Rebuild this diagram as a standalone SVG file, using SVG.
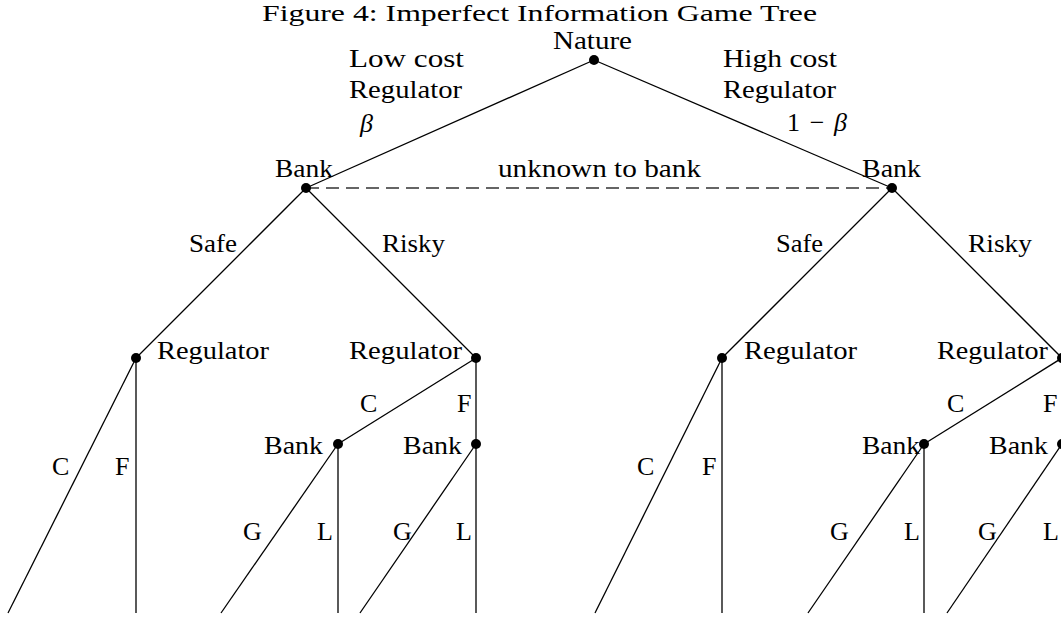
<svg xmlns="http://www.w3.org/2000/svg" width="1061" height="621" viewBox="0 0 1061 621">
<style>
text { font-family: "Liberation Serif", "Times New Roman", serif; font-size: 26px; fill: #000; }
.title { font-size: 23px; }
.it { font-style: italic; }
.edge { stroke: #000; stroke-width: 1.3; fill: none; }
.info { stroke: #333; stroke-width: 1.3; stroke-dasharray: 13 7; fill: none; }
.dot { fill: #000; }
</style>
<rect width="1061" height="621" fill="#fff"/>
<text class="title" x="262" y="20.6" textLength="555" lengthAdjust="spacingAndGlyphs">Figure 4: Imperfect Information Game Tree</text>

<g id="connectors">
  <line class="edge" x1="594" y1="60" x2="306" y2="188"/>
  <line class="edge" x1="594" y1="60" x2="892" y2="188"/>
  <line class="info" x1="306" y1="188" x2="892" y2="188"/>
  <!-- left bank -->
  <line class="edge" x1="306" y1="188" x2="136" y2="358"/>
  <line class="edge" x1="306" y1="188" x2="476" y2="358"/>
  <line class="edge" x1="136" y1="358" x2="8" y2="613"/>
  <line class="edge" x1="136" y1="358" x2="136" y2="613"/>
  <line class="edge" x1="476" y1="358" x2="338" y2="444"/>
  <line class="edge" x1="476" y1="358" x2="476" y2="613"/>
  <line class="edge" x1="338" y1="444" x2="221" y2="613"/>
  <line class="edge" x1="338" y1="444" x2="338" y2="613"/>
  <line class="edge" x1="476" y1="444" x2="360" y2="613"/>
  <!-- right bank -->
  <line class="edge" x1="892" y1="188" x2="722" y2="358"/>
  <line class="edge" x1="892" y1="188" x2="1062" y2="358"/>
  <line class="edge" x1="722" y1="358" x2="595" y2="613"/>
  <line class="edge" x1="722" y1="358" x2="722" y2="613"/>
  <line class="edge" x1="1062" y1="358" x2="924" y2="444"/>
  <line class="edge" x1="1062" y1="358" x2="1062" y2="613"/>
  <line class="edge" x1="924" y1="444" x2="808" y2="613"/>
  <line class="edge" x1="924" y1="444" x2="924" y2="613"/>
  <line class="edge" x1="1062" y1="444" x2="947" y2="613"/>
</g>

<g id="edge-labels">
  <text x="349" y="67" textLength="115" lengthAdjust="spacingAndGlyphs">Low cost</text>
  <text x="349" y="98" textLength="113" lengthAdjust="spacingAndGlyphs">Regulator</text>
  <text class="it" x="360" y="132">β</text>
  <text x="723" y="67" textLength="114" lengthAdjust="spacingAndGlyphs">High cost</text>
  <text x="723" y="98" textLength="113" lengthAdjust="spacingAndGlyphs">Regulator</text>
  <text x="787" y="131" textLength="60" lengthAdjust="spacing">1 − <tspan class="it">β</tspan></text>
  <text x="498" y="177" textLength="203" lengthAdjust="spacingAndGlyphs">unknown to bank</text>
  <text x="189" y="252" textLength="48" lengthAdjust="spacingAndGlyphs">Safe</text>
  <text x="382" y="252" textLength="63" lengthAdjust="spacingAndGlyphs">Risky</text>
  <text x="776" y="252" textLength="47" lengthAdjust="spacingAndGlyphs">Safe</text>
  <text x="968" y="252" textLength="64" lengthAdjust="spacingAndGlyphs">Risky</text>
  <text x="52" y="475">C</text>
  <text x="115" y="475">F</text>
  <text x="360" y="412">C</text>
  <text x="457" y="412">F</text>
  <text x="243" y="540">G</text>
  <text x="317" y="540">L</text>
  <text x="393" y="540">G</text>
  <text x="456" y="540">L</text>
  <text x="637" y="475">C</text>
  <text x="702" y="475">F</text>
  <text x="947" y="412">C</text>
  <text x="1043" y="412">F</text>
  <text x="830" y="540">G</text>
  <text x="904" y="540">L</text>
  <text x="978" y="540">G</text>
  <text x="1043" y="540">L</text>
</g>

<g id="node-nature">
  <circle class="dot" cx="594" cy="60" r="5"/>
  <text x="553" y="49" textLength="79" lengthAdjust="spacingAndGlyphs">Nature</text>
</g>
<g id="node-bank-left">
  <circle class="dot" cx="306" cy="188" r="5"/>
  <text x="275" y="177" textLength="58" lengthAdjust="spacingAndGlyphs">Bank</text>
</g>
<g id="node-bank-right">
  <circle class="dot" cx="892" cy="188" r="5"/>
  <text x="862" y="177" textLength="59" lengthAdjust="spacingAndGlyphs">Bank</text>
</g>
<g id="node-reg-ls">
  <circle class="dot" cx="136" cy="358" r="5"/>
  <text x="157" y="359" textLength="112" lengthAdjust="spacingAndGlyphs">Regulator</text>
</g>
<g id="node-reg-lr">
  <circle class="dot" cx="476" cy="358" r="5"/>
  <text x="349" y="359" textLength="113" lengthAdjust="spacingAndGlyphs">Regulator</text>
</g>
<g id="node-reg-rs">
  <circle class="dot" cx="722" cy="358" r="5"/>
  <text x="744" y="359" textLength="113" lengthAdjust="spacingAndGlyphs">Regulator</text>
</g>
<g id="node-reg-rr">
  <circle class="dot" cx="1062" cy="358" r="5"/>
  <text x="937" y="359" textLength="111" lengthAdjust="spacingAndGlyphs">Regulator</text>
</g>
<g id="node-bank-lrc">
  <circle class="dot" cx="338" cy="444" r="5"/>
  <text x="264" y="454" textLength="59" lengthAdjust="spacingAndGlyphs">Bank</text>
</g>
<g id="node-bank-lrf">
  <circle class="dot" cx="476" cy="444" r="5"/>
  <text x="403" y="454" textLength="59" lengthAdjust="spacingAndGlyphs">Bank</text>
</g>
<g id="node-bank-rrc">
  <circle class="dot" cx="924" cy="444" r="5"/>
  <text x="862" y="454" textLength="58" lengthAdjust="spacingAndGlyphs">Bank</text>
</g>
<g id="node-bank-rrf">
  <circle class="dot" cx="1062" cy="444" r="5"/>
  <text x="989" y="454" textLength="59" lengthAdjust="spacingAndGlyphs">Bank</text>
</g>
</svg>
